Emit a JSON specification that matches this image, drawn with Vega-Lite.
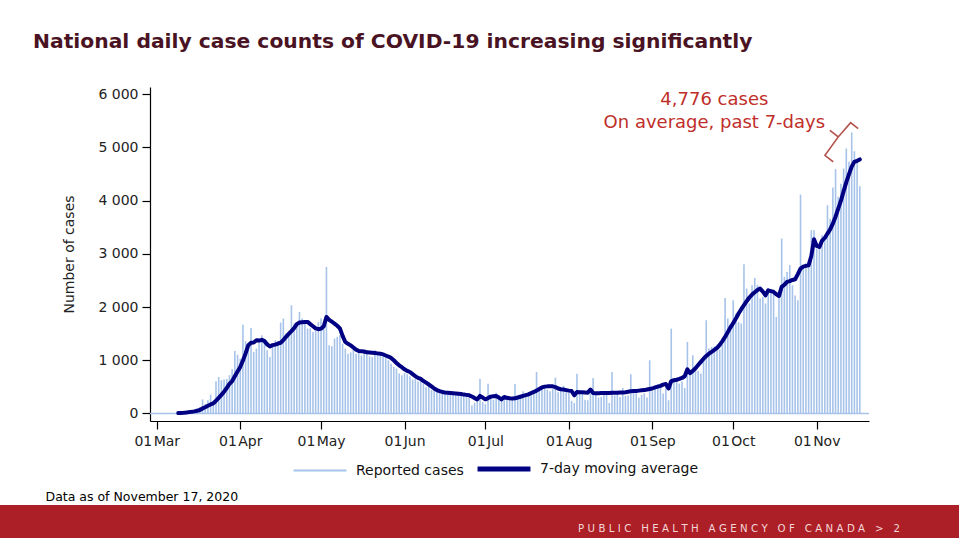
{
  "$schema": "https://vega.github.io/schema/vega-lite/v6.json",
  "padding": {"left": 0, "top": 31, "right": 0, "bottom": 0},
  "autosize": {"type": "pad"},
  "bounds": "flush",
  "spacing": 418,
  "config": {
    "font": "DejaVu Sans",
    "view": {"stroke": null},
    "axis": {"grid": false, "domainColor": "#000", "tickColor": "#000", "labelColor": "#222", "labelFontSize": 14, "tickSize": 8, "domainWidth": 1.2, "tickWidth": 1.2, "titleFontWeight": "normal"}
  },
  "datasets": {
    "daily": [
      {"date":"2020-03-01","cases":3},{"date":"2020-03-02","cases":4},{"date":"2020-03-03","cases":6},{"date":"2020-03-04","cases":4},{"date":"2020-03-05","cases":9},{"date":"2020-03-06","cases":12},{"date":"2020-03-07","cases":8},{"date":"2020-03-08","cases":7},
      {"date":"2020-03-09","cases":15,"avg":8},{"date":"2020-03-10","cases":16,"avg":10},{"date":"2020-03-11","cases":24,"avg":13},{"date":"2020-03-12","cases":40,"avg":18},{"date":"2020-03-13","cases":60,"avg":26},{"date":"2020-03-14","cases":55,"avg":32},{"date":"2020-03-15","cases":70,"avg":40},{"date":"2020-03-16","cases":90,"avg":52},{"date":"2020-03-17","cases":120,"avg":65},{"date":"2020-03-18","cases":265,"avg":95},{"date":"2020-03-19","cases":180,"avg":118},{"date":"2020-03-20","cases":250,"avg":145},{"date":"2020-03-21","cases":355,"avg":170},{"date":"2020-03-22","cases":240,"avg":190},{"date":"2020-03-23","cases":605,"avg":240},{"date":"2020-03-24","cases":687,"avg":295},{"date":"2020-03-25","cases":625,"avg":350},{"date":"2020-03-26","cases":640,"avg":410},{"date":"2020-03-27","cases":650,"avg":480},{"date":"2020-03-28","cases":720,"avg":555},{"date":"2020-03-29","cases":830,"avg":610},{"date":"2020-03-30","cases":1175,"avg":700},{"date":"2020-03-31","cases":1105,"avg":790},
      {"date":"2020-04-01","cases":1030,"avg":875},{"date":"2020-04-02","cases":1670,"avg":995},{"date":"2020-04-03","cases":1357,"avg":1130},{"date":"2020-04-04","cases":1263,"avg":1285},{"date":"2020-04-05","cases":1608,"avg":1330},{"date":"2020-04-06","cases":1157,"avg":1335},{"date":"2020-04-07","cases":1220,"avg":1375},{"date":"2020-04-08","cases":1345,"avg":1370},{"date":"2020-04-09","cases":1470,"avg":1385},{"date":"2020-04-10","cases":1360,"avg":1360},{"date":"2020-04-11","cases":1188,"avg":1300},{"date":"2020-04-12","cases":1063,"avg":1260},{"date":"2020-04-13","cases":1290,"avg":1285},{"date":"2020-04-14","cases":1376,"avg":1295},{"date":"2020-04-15","cases":1300,"avg":1315},{"date":"2020-04-16","cases":1709,"avg":1330},{"date":"2020-04-17","cases":1784,"avg":1380},{"date":"2020-04-18","cases":1502,"avg":1440},{"date":"2020-04-19","cases":1520,"avg":1495},{"date":"2020-04-20","cases":2034,"avg":1550},{"date":"2020-04-21","cases":1690,"avg":1605},{"date":"2020-04-22","cases":1720,"avg":1680},{"date":"2020-04-23","cases":1909,"avg":1710},{"date":"2020-04-24","cases":1784,"avg":1715},{"date":"2020-04-25","cases":1690,"avg":1720},{"date":"2020-04-26","cases":1596,"avg":1722},{"date":"2020-04-27","cases":1600,"avg":1680},{"date":"2020-04-28","cases":1533,"avg":1640},{"date":"2020-04-29","cases":1560,"avg":1600},{"date":"2020-04-30","cases":1721,"avg":1585},
      {"date":"2020-05-01","cases":1784,"avg":1595},{"date":"2020-05-02","cases":1600,"avg":1640},{"date":"2020-05-03","cases":2755,"avg":1815},{"date":"2020-05-04","cases":1282,"avg":1760},{"date":"2020-05-05","cases":1263,"avg":1725},{"date":"2020-05-06","cases":1408,"avg":1690},{"date":"2020-05-07","cases":1439,"avg":1650},{"date":"2020-05-08","cases":1470,"avg":1600},{"date":"2020-05-09","cases":1310,"avg":1460},{"date":"2020-05-10","cases":1220,"avg":1345},{"date":"2020-05-11","cases":1125,"avg":1310},{"date":"2020-05-12","cases":1150,"avg":1280},{"date":"2020-05-13","cases":1220,"avg":1240},{"date":"2020-05-14","cases":1125,"avg":1200},{"date":"2020-05-15","cases":1150,"avg":1175},{"date":"2020-05-16","cases":1090,"avg":1170},{"date":"2020-05-17","cases":1150,"avg":1165},{"date":"2020-05-18","cases":1150,"avg":1150},{"date":"2020-05-19","cases":1075,"avg":1145},{"date":"2020-05-20","cases":1060,"avg":1140},{"date":"2020-05-21","cases":1188,"avg":1135},{"date":"2020-05-22","cases":1150,"avg":1130},{"date":"2020-05-23","cases":1100,"avg":1125},{"date":"2020-05-24","cases":1060,"avg":1110},{"date":"2020-05-25","cases":1050,"avg":1090},{"date":"2020-05-26","cases":1000,"avg":1070},{"date":"2020-05-27","cases":937,"avg":1045},{"date":"2020-05-28","cases":875,"avg":1000},{"date":"2020-05-29","cases":845,"avg":950},{"date":"2020-05-30","cases":750,"avg":905},{"date":"2020-05-31","cases":720,"avg":870},
      {"date":"2020-06-01","cases":760,"avg":830},{"date":"2020-06-02","cases":740,"avg":800},{"date":"2020-06-03","cases":700,"avg":780},{"date":"2020-06-04","cases":640,"avg":740},{"date":"2020-06-05","cases":650,"avg":700},{"date":"2020-06-06","cases":600,"avg":670},{"date":"2020-06-07","cases":620,"avg":650},{"date":"2020-06-08","cases":560,"avg":610},{"date":"2020-06-09","cases":500,"avg":580},{"date":"2020-06-10","cases":520,"avg":545},{"date":"2020-06-11","cases":440,"avg":510},{"date":"2020-06-12","cases":450,"avg":470},{"date":"2020-06-13","cases":420,"avg":440},{"date":"2020-06-14","cases":410,"avg":420},{"date":"2020-06-15","cases":395,"avg":405},{"date":"2020-06-16","cases":400,"avg":395},{"date":"2020-06-17","cases":380,"avg":390},{"date":"2020-06-18","cases":375,"avg":385},{"date":"2020-06-19","cases":370,"avg":380},{"date":"2020-06-20","cases":360,"avg":375},{"date":"2020-06-21","cases":355,"avg":370},{"date":"2020-06-22","cases":360,"avg":365},{"date":"2020-06-23","cases":340,"avg":355},{"date":"2020-06-24","cases":330,"avg":350},{"date":"2020-06-25","cases":300,"avg":342},{"date":"2020-06-26","cases":150,"avg":320},{"date":"2020-06-27","cases":200,"avg":290},{"date":"2020-06-28","cases":250,"avg":266},{"date":"2020-06-29","cases":655,"avg":330},{"date":"2020-06-30","cases":220,"avg":300},
      {"date":"2020-07-01","cases":180,"avg":266},{"date":"2020-07-02","cases":561,"avg":290},{"date":"2020-07-03","cases":300,"avg":317},{"date":"2020-07-04","cases":260,"avg":325},{"date":"2020-07-05","cases":392,"avg":330},{"date":"2020-07-06","cases":280,"avg":300},{"date":"2020-07-07","cases":240,"avg":266},{"date":"2020-07-08","cases":250,"avg":310},{"date":"2020-07-09","cases":320,"avg":295},{"date":"2020-07-10","cases":260,"avg":285},{"date":"2020-07-11","cases":300,"avg":280},{"date":"2020-07-12","cases":555,"avg":285},{"date":"2020-07-13","cases":310,"avg":300},{"date":"2020-07-14","cases":300,"avg":315},{"date":"2020-07-15","cases":420,"avg":330},{"date":"2020-07-16","cases":340,"avg":345},{"date":"2020-07-17","cases":350,"avg":360},{"date":"2020-07-18","cases":380,"avg":385},{"date":"2020-07-19","cases":420,"avg":405},{"date":"2020-07-20","cases":780,"avg":430},{"date":"2020-07-21","cases":480,"avg":460},{"date":"2020-07-22","cases":470,"avg":490},{"date":"2020-07-23","cases":480,"avg":505},{"date":"2020-07-24","cases":450,"avg":510},{"date":"2020-07-25","cases":420,"avg":512},{"date":"2020-07-26","cases":460,"avg":510},{"date":"2020-07-27","cases":674,"avg":495},{"date":"2020-07-28","cases":400,"avg":470},{"date":"2020-07-29","cases":450,"avg":455},{"date":"2020-07-30","cases":520,"avg":450},{"date":"2020-07-31","cases":400,"avg":440},
      {"date":"2020-08-01","cases":390,"avg":430},{"date":"2020-08-02","cases":240,"avg":423},{"date":"2020-08-03","cases":200,"avg":342},{"date":"2020-08-04","cases":749,"avg":405},{"date":"2020-08-05","cases":390,"avg":400},{"date":"2020-08-06","cases":380,"avg":398},{"date":"2020-08-07","cases":260,"avg":395},{"date":"2020-08-08","cases":250,"avg":392},{"date":"2020-08-09","cases":380,"avg":450},{"date":"2020-08-10","cases":668,"avg":385},{"date":"2020-08-11","cases":380,"avg":380},{"date":"2020-08-12","cases":300,"avg":382},{"date":"2020-08-13","cases":310,"avg":383},{"date":"2020-08-14","cases":400,"avg":384},{"date":"2020-08-15","cases":380,"avg":385},{"date":"2020-08-16","cases":200,"avg":386},{"date":"2020-08-17","cases":780,"avg":388},{"date":"2020-08-18","cases":340,"avg":390},{"date":"2020-08-19","cases":390,"avg":392},{"date":"2020-08-20","cases":310,"avg":394},{"date":"2020-08-21","cases":480,"avg":395},{"date":"2020-08-22","cases":330,"avg":400},{"date":"2020-08-23","cases":340,"avg":410},{"date":"2020-08-24","cases":737,"avg":420},{"date":"2020-08-25","cases":420,"avg":423},{"date":"2020-08-26","cases":380,"avg":425},{"date":"2020-08-27","cases":300,"avg":430},{"date":"2020-08-28","cases":350,"avg":435},{"date":"2020-08-29","cases":380,"avg":440},{"date":"2020-08-30","cases":300,"avg":450},{"date":"2020-08-31","cases":1000,"avg":460},
      {"date":"2020-09-01","cases":420,"avg":470},{"date":"2020-09-02","cases":460,"avg":490},{"date":"2020-09-03","cases":550,"avg":505},{"date":"2020-09-04","cases":560,"avg":520},{"date":"2020-09-05","cases":375,"avg":542},{"date":"2020-09-06","cases":520,"avg":556},{"date":"2020-09-07","cases":250,"avg":470},{"date":"2020-09-08","cases":1596,"avg":610},{"date":"2020-09-09","cases":600,"avg":625},{"date":"2020-09-10","cases":620,"avg":635},{"date":"2020-09-11","cases":560,"avg":650},{"date":"2020-09-12","cases":600,"avg":668},{"date":"2020-09-13","cases":480,"avg":700},{"date":"2020-09-14","cases":1345,"avg":830},{"date":"2020-09-15","cases":800,"avg":760},{"date":"2020-09-16","cases":1096,"avg":800},{"date":"2020-09-17","cases":870,"avg":850},{"date":"2020-09-18","cases":800,"avg":910},{"date":"2020-09-19","cases":750,"avg":970},{"date":"2020-09-20","cases":1000,"avg":1030},{"date":"2020-09-21","cases":1753,"avg":1080},{"date":"2020-09-22","cases":1220,"avg":1125},{"date":"2020-09-23","cases":1250,"avg":1160},{"date":"2020-09-24","cases":1260,"avg":1195},{"date":"2020-09-25","cases":1290,"avg":1232},{"date":"2020-09-26","cases":1200,"avg":1290},{"date":"2020-09-27","cases":1300,"avg":1360},{"date":"2020-09-28","cases":2173,"avg":1439},{"date":"2020-09-29","cases":1784,"avg":1530},{"date":"2020-09-30","cases":1660,"avg":1620},
      {"date":"2020-10-01","cases":2129,"avg":1700},{"date":"2020-10-02","cases":1880,"avg":1784},{"date":"2020-10-03","cases":1720,"avg":1880},{"date":"2020-10-04","cases":1690,"avg":1960},{"date":"2020-10-05","cases":2806,"avg":2035},{"date":"2020-10-06","cases":2348,"avg":2110},{"date":"2020-10-07","cases":2070,"avg":2180},{"date":"2020-10-08","cases":2410,"avg":2235},{"date":"2020-10-09","cases":2549,"avg":2280},{"date":"2020-10-10","cases":2420,"avg":2320},{"date":"2020-10-11","cases":2160,"avg":2348},{"date":"2020-10-12","cases":2190,"avg":2290},{"date":"2020-10-13","cases":2070,"avg":2222},{"date":"2020-10-14","cases":2350,"avg":2316},{"date":"2020-10-15","cases":2320,"avg":2300},{"date":"2020-10-16","cases":2330,"avg":2285},{"date":"2020-10-17","cases":1815,"avg":2240},{"date":"2020-10-18","cases":2250,"avg":2210},{"date":"2020-10-19","cases":3288,"avg":2380},{"date":"2020-10-20","cases":2570,"avg":2420},{"date":"2020-10-21","cases":2660,"avg":2473},{"date":"2020-10-22","cases":2790,"avg":2490},{"date":"2020-10-23","cases":2410,"avg":2510},{"date":"2020-10-24","cases":2220,"avg":2524},{"date":"2020-10-25","cases":2130,"avg":2620},{"date":"2020-10-26","cases":4116,"avg":2724},{"date":"2020-10-27","cases":2790,"avg":2760},{"date":"2020-10-28","cases":2830,"avg":2775},{"date":"2020-10-29","cases":2860,"avg":2787},{"date":"2020-10-30","cases":3445,"avg":2960},{"date":"2020-10-31","cases":3445,"avg":3276},
      {"date":"2020-11-01","cases":3100,"avg":3150},{"date":"2020-11-02","cases":3170,"avg":3131},{"date":"2020-11-03","cases":3350,"avg":3250},{"date":"2020-11-04","cases":3260,"avg":3300},{"date":"2020-11-05","cases":3915,"avg":3382},{"date":"2020-11-06","cases":3660,"avg":3460},{"date":"2020-11-07","cases":4248,"avg":3570},{"date":"2020-11-08","cases":4593,"avg":3700},{"date":"2020-11-09","cases":4073,"avg":3852},{"date":"2020-11-10","cases":4320,"avg":4000},{"date":"2020-11-11","cases":4605,"avg":4180},{"date":"2020-11-12","cases":4982,"avg":4350},{"date":"2020-11-13","cases":4731,"avg":4500},{"date":"2020-11-14","cases":5282,"avg":4640},{"date":"2020-11-15","cases":4931,"avg":4730},{"date":"2020-11-16","cases":4731,"avg":4750},{"date":"2020-11-17","cases":4273,"avg":4776}
    ],
    "bracket": [
      {"t":"2020-11-07T03:36:00Z","v":4728,"o":1},
      {"t":"2020-11-04T01:40:00Z","v":4854,"o":2},
      {"t":"2020-11-09T00:00:00Z","v":5198,"o":3},
      {"t":"2020-11-05T21:36:00Z","v":5324,"o":4},
      {"t":"2020-11-09T00:00:00Z","v":5198,"o":5},
      {"t":"2020-11-13T14:24:00Z","v":5467,"o":6},
      {"t":"2020-11-16T09:36:00Z","v":5354,"o":7}
    ]
  },
  "vconcat": [
    {
      "bounds": "flush",
      "spacing": 0,
      "hconcat": [
        {"width": 150, "height": 334, "data": {"values": []}, "mark": "point", "view": {"stroke": null}},
        {
          "width": 719,
          "height": 334,
          "title": {"text": "National daily case counts of COVID-19 increasing significantly", "anchor": "start", "frame": "group", "dx": -117, "offset": 19, "baseline": "alphabetic", "fontSize": 20.3, "fontWeight": "bold", "color": "#4a1324", "font": "DejaVu Sans"},
          "layer": [
            {
              "data": {"values": [{}]},
              "mark": {"type": "rule", "color": "#a7c3ea", "strokeWidth": 1.5},
              "encoding": {"y": {"datum": 0, "type": "quantitative", "title": "Number of cases"}}
            },
            {
              "data": {"name": "daily"},
              "mark": {"type": "bar", "size": 1.6},
              "encoding": {
                "x": {
                  "field": "date", "type": "temporal", "title": "Data as of November 17, 2020",
                  "scale": {"type": "utc", "padding": 0, "domain": [{"year": 2020, "month": 2, "date": 27, "hours": 12, "utc": true}, {"year": 2020, "month": 11, "date": 20, "hours": 10, "utc": true}]},
                  "axis": {
                    "values": [{"year":2020,"month":3,"date":1,"utc":true},{"year":2020,"month":4,"date":1,"utc":true},{"year":2020,"month":5,"date":1,"utc":true},{"year":2020,"month":6,"date":1,"utc":true},{"year":2020,"month":7,"date":1,"utc":true},{"year":2020,"month":8,"date":1,"utc":true},{"year":2020,"month":9,"date":1,"utc":true},{"year":2020,"month":10,"date":1,"utc":true},{"year":2020,"month":11,"date":1,"utc":true}],
                    "labelExpr": "utcFormat(datum.value, '%d\u200a%b')", "labelPadding": 5, "labelFlush": false, "labelOverlap": false,
                    "titleX": -105, "titleY": 79, "titleAlign": "left", "titleBaseline": "alphabetic", "titleAngle": 0, "titleFontSize": 12.5, "titleColor": "#000"
                  }
                },
                "y": {
                  "field": "cases", "type": "quantitative", "title": "Number of cases",
                  "scale": {"domain": [-141, 6137], "nice": false, "zero": false, "padding": 0},
                  "axis": {
                    "values": [0, 1000, 2000, 3000, 4000, 5000, 6000],
                    "labelExpr": "replace(format(datum.value, ',d'), ',', ' ')",
                    "labelPadding": 4, "titleFontSize": 14, "titleColor": "#222",
                    "titleX": -81, "titleY": 167, "titleBaseline": "middle"
                  }
                },
                "y2": {"datum": 0},
                "color": {
                  "datum": "Reported cases", "type": "nominal",
                  "scale": {"domain": ["Reported cases", "7-day moving average"], "range": ["#a7c3ea", "#000082"]},
                  "legend": {
                    "orient": "none", "legendX": 313, "legendY": 375, "direction": "horizontal", "title": null,
                    "symbolType": "stroke", "symbolSize": 2800, "symbolStrokeWidth": 2,
                    "labelFontSize": 14, "labelColor": "#111", "labelOffset": 29, "columnPadding": 3, "padding": 0,
                    "encode": {"symbols": {"update": {
                      "stroke": {"scale": "color", "field": "value"},
                      "fill": {"value": "transparent"},
                      "strokeWidth": {"signal": "datum.value === '7-day moving average' ? 5 : 2"},
                      "opacity": {"value": 1}
                    }}}
                  }
                }
              }
            },
            {
              "data": {"name": "daily"},
              "mark": {"type": "line", "strokeWidth": 4, "strokeJoin": "round", "strokeCap": "round"},
              "encoding": {
                "x": {"field": "date", "type": "temporal", "title": "Data as of November 17, 2020"},
                "y": {"field": "avg", "type": "quantitative", "title": "Number of cases"},
                "color": {"datum": "7-day moving average", "type": "nominal"}
              }
            },
            {
              "data": {"name": "bracket"},
              "mark": {"type": "line", "color": "#b3524c", "strokeWidth": 1.6},
              "encoding": {
                "x": {"field": "t", "type": "temporal", "title": "Data as of November 17, 2020"},
                "y": {"field": "v", "type": "quantitative", "title": "Number of cases"},
                "order": {"field": "o", "type": "quantitative"}
              }
            },
            {
              "data": {"values": [{}]},
              "mark": {"type": "text", "text": ["4,776 cases", "On average, past 7-days"], "lineHeight": 23, "fontSize": 18, "color": "#bf2f2a", "align": "center", "baseline": "alphabetic"},
              "encoding": {
                "x": {"datum": {"year": 2020, "month": 9, "date": 24, "utc": true}, "type": "temporal", "title": "Data as of November 17, 2020"},
                "y": {"datum": 5794, "type": "quantitative", "title": "Number of cases"}
              }
            }
          ]
        }
      ]
    },
    {
      "width": 959,
      "height": 35,
      "data": {"values": []},
      "mark": "point",
      "view": {"fill": "#ad1f27", "stroke": null},
      "title": {"text": "P\u2004U\u2004B\u2004L\u2004I\u2004C\u2004 \u2004H\u2004E\u2004A\u2004L\u2004T\u2004H\u2004 \u2004A\u2004G\u2004E\u2004N\u2004C\u2004Y\u2004 \u2004O\u2004F\u2004 \u2004C\u2004A\u2004N\u2004A\u2004D\u2004A\u2004 \u2004>\u2004 \u20042", "orient": "bottom", "anchor": "end", "frame": "group", "offset": -8, "dx": -59, "baseline": "alphabetic", "fontSize": 10.2, "fontWeight": "normal", "color": "#f4d6d8"}
    }
  ]
}
